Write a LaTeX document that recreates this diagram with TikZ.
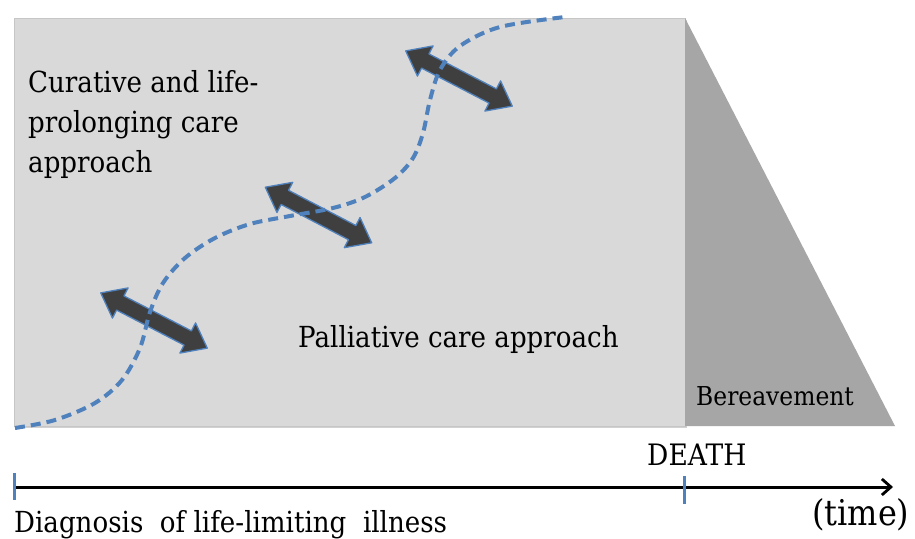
\documentclass[tikz,border=0pt]{standalone}
\usepackage{fontspec}
\newfontfamily\dvs[FakeStretch=0.9]{DejaVu Serif}
\usetikzlibrary{arrows.meta}
\definecolor{boxgray}{HTML}{D9D9D9}
\definecolor{boxedge}{HTML}{C6C6C6}
\definecolor{trapgray}{HTML}{A6A6A6}
\definecolor{arrowgray}{HTML}{3F3F3F}
\definecolor{curveblue}{HTML}{4F81BD}
\tikzset{
  txt/.style={inner sep=0pt, anchor=base west, text=black},
  dblarrow/.style={fill=arrowgray, draw=curveblue, line width=1.3pt, line join=round},
  careline/.style={draw=curveblue, line width=4pt, dash pattern=on 10pt off 6pt},
  tickmark/.style={draw=curveblue, line width=3pt},
  timeaxis/.style={draw=black, line width=3pt, -{Straight Barb[length=9pt,width=16pt,line width=2.8pt]}},
  dblarr/.pic={\path[dblarrow] (-60,0) -- (-38,17) -- (-38,8) -- (38,8) -- (38,17) -- (60,0) -- (38,-17) -- (38,-8) -- (-38,-8) -- (-38,-17) -- cycle;}
}
\begin{document}
\begin{tikzpicture}[x=1pt,y=-1pt]
\path[use as bounding box, fill=white] (0,0) rectangle (915,538);
% main box and bereavement wedge
\fill[black!18] (16,20) rectangle (687,428);
\path[fill=boxgray, draw=boxedge, line width=1pt] (14,18) rectangle (685,426);
\path[fill=trapgray] (685,18) -- (895,426) -- (685,426) -- cycle;
% double arrows
\pic[rotate=-27.4] at (154,320.5) {dblarr};
\pic[rotate=-27.6] at (318.5,215) {dblarr};
\pic[rotate=-27.4] at (459,78.5) {dblarr};
% dashed transition curve
\path[careline] plot[smooth, tension=0.55] coordinates {(15,428) (55,420) (95,403) (122,380) (140,348) (150,312) (163,283) (185,258) (215,238) (250,224) (290,216) (333,208) (365,197) (395,178) (413,158) (423,133) (430,100) (440,70) (460,46) (500,27) (565,17)};
% texts
\node[txt, align=left, font=\dvs\fontsize{29}{39.7}\selectfont] (cur) at (28,172) {Curative and life-\\prolonging care\\approach};
\node[txt, font=\dvs\fontsize{29}{35}\selectfont] (pal) at (298,347) {Palliative care approach};
\node[txt, font=\dvs\fontsize{26}{31}\selectfont] (ber) at (696,405) {Bereavement};
\node[txt, font=\dvs\fontsize{29.5}{35}\selectfont] (death) at (647,465) {DEATH};
\node[txt, font=\dvs\fontsize{35.5}{42}\selectfont] (time) at (812,525) {(time)};
\node[txt, font=\dvs\fontsize{29}{35}\selectfont] (diag) at (14,532) {Diagnosis\ \ of life-limiting\ \ illness};
% time axis
\coordinate (t0) at (14,487);
\coordinate (tend) at (893,487);
\coordinate (td) at (684,487);
\path[timeaxis] (t0) -- (tend);
\path[tickmark] ([yshift=14pt]t0) -- ([yshift=-13pt]t0);
\path[tickmark] ([yshift=11pt]td) -- ([yshift=-17pt]td);
\end{tikzpicture}
\end{document}
